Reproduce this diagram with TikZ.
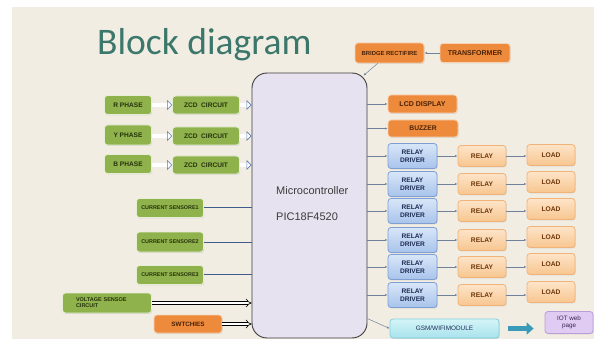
\documentclass[tikz,border=0pt]{standalone}
\usepackage{fontspec}
\setmainfont{Liberation Sans}
\newfontfamily\titlefont{Carlito}
\usetikzlibrary{arrows.meta,shadows,calc}
\definecolor{bgc}{HTML}{F2EDE3}
\definecolor{titlec}{HTML}{3B776B}
\definecolor{greenf}{HTML}{8FB24C}
\definecolor{greend}{HTML}{E6EED6}
\definecolor{greent}{HTML}{26330C}
\definecolor{orangef}{HTML}{EE8A3C}
\definecolor{oranged}{HTML}{F7D3B4}
\definecolor{oranget}{HTML}{4A2206}
\definecolor{drvtop}{HTML}{D8E6F8}
\definecolor{drvbot}{HTML}{A8C3EB}
\definecolor{drvd}{HTML}{7E9FD4}
\definecolor{drvt}{HTML}{1E2D55}
\definecolor{peachtop}{HTML}{FDE4C8}
\definecolor{peachbot}{HTML}{F8C690}
\definecolor{peachd}{HTML}{F1B378}
\definecolor{peacht}{HTML}{6E3608}
\definecolor{gsmtop}{HTML}{D4F5F8}
\definecolor{gsmbot}{HTML}{A8E2EC}
\definecolor{gsmd}{HTML}{86CFDD}
\definecolor{iotf}{HTML}{E0CCF2}
\definecolor{iotd}{HTML}{B99CD8}
\definecolor{iott}{HTML}{3A2458}
\definecolor{microf}{HTML}{E6E2EF}
\definecolor{microd}{HTML}{3C3C3C}
\definecolor{connc}{HTML}{6F819B}
\definecolor{csc}{HTML}{3E5C8C}
\definecolor{hollowc}{HTML}{5F7FB8}
\definecolor{tealc}{HTML}{3A9AB8}
\begin{document}
\begin{tikzpicture}[x=1pt,y=-1pt,
  box/.style={rounded corners=3pt, inner sep=0pt, align=center, line width=0.8pt,
    drop shadow={opacity=0.22,shadow xshift=0.7pt,shadow yshift=-0.9pt}},
  gbox/.style={box, fill=greenf, draw=greend, text=greent},
  obox/.style={box, fill=orangef, draw=oranged, text=oranget},
  dbox/.style={box, top color=drvtop, bottom color=drvbot, draw=drvd, text=drvt,
    minimum width=49pt, minimum height=25pt, font=\bfseries\fontsize{6.6}{7.6}\selectfont},
  pbox/.style={box, top color=peachtop, bottom color=peachbot, draw=peachd, text=peacht,
    minimum width=48pt, minimum height=21pt, font=\bfseries\fontsize{6.7}{8}\selectfont},
  conn/.style={draw=connc, line width=0.5pt, -{Latex[length=2.6pt,width=2.2pt]}},
  csline/.style={draw=csc, line width=1pt},
  hollow/.style={draw=hollowc, line width=0.6pt, double=white, double distance=3.6pt,
    -{Triangle[open, fill=white, length=5pt, width=10pt, line width=0.6pt]}},
  blackdbl/.style={draw=black, line width=0.6pt, double=white, double distance=2.4pt,
    -{Implies}},
  lbl/.style={inner sep=0pt, text=microd, font=\fontsize{11}{13}\selectfont, anchor=base west}
]
\useasboundingbox (0,0) rectangle (594,339);
\fill[white] (0,0) rectangle (594,339);
\fill[bgc] (12,7) rectangle (594,339);

% title
\node[inner sep=0pt, anchor=base west, text=titlec, font=\titlefont\fontsize{37.5}{40}\selectfont] (title) at (97,55) {Block diagram};

% microcontroller
\node[draw=microd, fill=microf, line width=0.9pt, rounded corners=15pt,
      minimum width=115pt, minimum height=265pt, inner sep=0pt] (micro) at (309.5,205.5) {};
\node[lbl] (mt1) at (276,194) {Microcontroller};
\node[lbl] (mt2) at (276,221) {PIC18F4520};

% phase inputs
\begin{scope}[every node/.append style={font=\bfseries\fontsize{6.6}{7}\selectfont}]
\node[gbox, minimum width=47pt, minimum height=19pt] (rph) at (128,105) {R PHASE};
\node[gbox, minimum width=47pt, minimum height=20pt] (yph) at (128,135) {Y PHASE};
\node[gbox, minimum width=47pt, minimum height=19pt] (bph) at (128,164) {B PHASE};
\node[gbox, minimum width=67pt, minimum height=18pt] (zcd1) at (206,105) {ZCD\ \ CIRCUIT};
\node[gbox, minimum width=67pt, minimum height=18pt] (zcd2) at (206,136) {ZCD\ \ CIRCUIT};
\node[gbox, minimum width=67pt, minimum height=18pt] (zcd3) at (206,165) {ZCD\ \ CIRCUIT};
\end{scope}
\draw[hollow] (rph) -- (zcd1);
\draw[hollow] (yph.east |- zcd2) -- (zcd2);
\draw[hollow] (bph.east |- zcd3) -- (zcd3);
\draw[hollow] (zcd1) -- (zcd1 -| micro.west);
\draw[hollow] (zcd2) -- (zcd2 -| micro.west);
\draw[hollow] (zcd3) -- (zcd3 -| micro.west);

% current sensors
\begin{scope}[every node/.append style={font=\bfseries\fontsize{5.4}{6}\selectfont}]
\node[gbox, minimum width=67pt, minimum height=19pt] (cs1) at (170,208) {CURRENT SENSORE1};
\node[gbox, minimum width=67pt, minimum height=20pt] (cs2) at (170,242) {CURRENT SENSORE2};
\node[gbox, minimum width=67pt, minimum height=19pt] (cs3) at (170,275) {CURRENT SENSORE3};
\node[gbox, minimum width=89pt, minimum height=20pt, text width=62pt, align=left,
      font=\bfseries\fontsize{5.5}{6}\selectfont] (volt) at (107,303) {VOLTAGE SENSOE\\CIRCUIT};
\end{scope}
\draw[csline] (cs1) -- (cs1 -| micro.west);
\draw[csline] (cs2) -- (cs2 -| micro.west);
\draw[csline] (cs3.east) ++(0,-1) coordinate (cs3e) -- (cs3e -| micro.west);
\draw[blackdbl] (volt.east) -- (volt.east -| micro.west);
\node[obox, minimum width=68pt, minimum height=18pt, font=\bfseries\fontsize{6.3}{7}\selectfont] (sw) at (188,324) {SWTCHIES};
\draw[blackdbl] (sw.east) -- (sw.east -| micro.west);

% power
\node[obox, minimum width=69pt, minimum height=20pt, font=\bfseries\fontsize{5.9}{7}\selectfont] (bridge) at (389.5,53) {BRIDGE RECTIFIRE};
\node[obox, minimum width=70pt, minimum height=19pt, font=\bfseries\fontsize{7}{8}\selectfont] (trans) at (475,53) {TRANSFORMER};
\draw[conn] (trans) -- (bridge);
\draw[conn] ($(bridge.south west)!0.33!(bridge.south east)$) -- ($(micro.north east)+(-4,3)$);

% outputs
\node[obox, minimum width=69pt, minimum height=18pt, font=\bfseries\fontsize{7}{8}\selectfont] (lcd) at (422.5,104) {LCD DISPLAY};
\node[obox, minimum width=70pt, minimum height=17pt, font=\bfseries\fontsize{6.7}{8}\selectfont] (buzz) at (423,128.5) {BUZZER};
\draw[conn] (lcd.west -| micro.east) -- (lcd.west);
\draw[conn] (buzz.west -| micro.east) -- (buzz.west);

\foreach \i/\y/\ly in {1/156/155, 2/184/182, 3/211/209, 4/240/237, 5/267/264, 6/295/292}{
  \node[dbox] (drv\i) at (412.5,\y) {RELAY\\DRIVER};
  \node[pbox] (rel\i) at (482,\y) {RELAY};
  \node[pbox] (load\i) at (551,\ly) {LOAD};
  \draw[conn] (drv\i.west -| micro.east) -- (drv\i.west);
  \draw[conn] (drv\i) -- (rel\i);
  \draw[conn] (rel\i.east) -- (rel\i.east -| load\i.west);
}

% communication
\node[box, top color=gsmtop, bottom color=gsmbot, draw=gsmd, text=drvt,
      minimum width=109pt, minimum height=19pt, font=\fontsize{6.4}{7}\selectfont] (gsm) at (444.5,328.5) {GSM/WIFIMODULE};
\node[box, fill=iotf, draw=iotd, text=iott, minimum width=48pt, minimum height=22pt,
      font=\fontsize{6.3}{7.5}\selectfont] (iot) at (569,322.5) {IOT web\\page};
\draw[conn] (gsm.north -| micro.east) -- (gsm.west);
\draw[draw=tealc, line width=5pt, shorten <=9pt, shorten >=11pt,
      -{Triangle[length=7pt,width=12pt]}] (gsm.east) -- (gsm.east -| iot.west);
\end{tikzpicture}
\end{document}
